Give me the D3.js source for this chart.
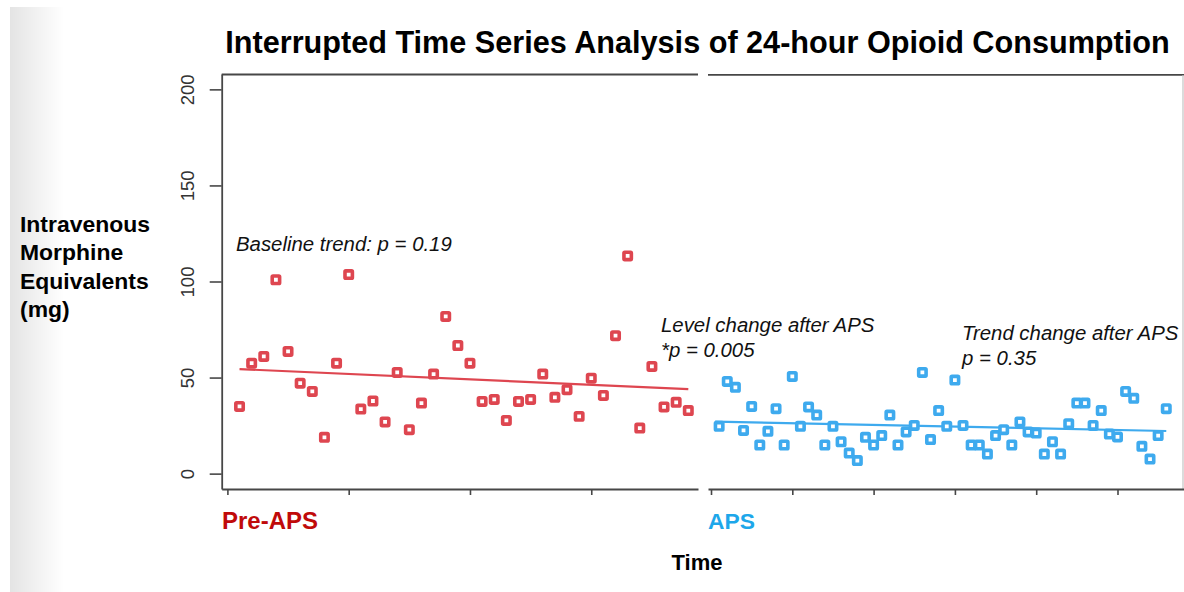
<!DOCTYPE html>
<html>
<head>
<meta charset="utf-8">
<script src="https://cdn.jsdelivr.net/npm/d3@7"></script>
<style>
  html, body { margin: 0; padding: 0; background: #fff; }
  svg { display: block; }
  text { font-family: "Liberation Sans", Arial, Helvetica, sans-serif; }
</style>
</head>
<body>
<svg id="chart" width="1184" height="592"></svg>
<script>
// ---- data ----
const preValues = [35.0, 57.5, 61.0, 100.9, 63.6, 47.1, 42.8, 18.9, 57.5, 103.6,
  33.6, 37.8, 26.9, 52.7, 22.9, 36.7, 51.8, 81.8, 66.7, 57.5,
  37.6, 38.6, 27.7, 37.6, 38.6, 51.8, 39.7, 43.7, 29.8, 49.7,
  40.7, 71.8, 113.3, 23.7, 55.8, 34.7, 37.1, 32.8];
const apsValues = [24.6, 48.0, 44.9, 22.5, 35.0, 14.9, 22.0, 33.8, 14.9, 50.6,
  24.6, 34.7, 30.5, 14.9, 24.6, 16.6, 10.7, 6.8, 18.9, 14.9,
  19.8, 30.5, 14.9, 21.7, 25.1, 52.7, 17.7, 32.8, 24.6, 48.7,
  25.1, 14.9, 14.9, 10.2, 19.8, 22.9, 14.9, 26.9, 21.7, 21.1,
  10.2, 16.6, 10.2, 26.0, 36.7, 36.7, 25.1, 32.8, 20.6, 19.1,
  42.8, 39.2, 14.2, 7.6, 19.8, 33.8];
const trendPre = [[1, 54.4], [38, 44.0]];
const trendAps = [[0.5, 27.1], [56, 22.2]];
const yTicks = [0, 50, 100, 150, 200];
const xTicksPre = [0, 10, 20, 30];
const xTicksAps = [0, 10, 20, 30, 40, 50];
const titleText = "Interrupted Time Series Analysis of 24-hour Opioid Consumption";
const yLabelLines = ["Intravenous", "Morphine", "Equivalents", "(mg)"];
const groupLabels = ["Pre-APS", "APS"];
const xLabel = "Time";
const notes = [
  {panel: "pre", lines: ["Baseline trend: p = 0.19"]},
  {panel: "lvl", lines: ["Level change after APS", "*p = 0.005"]},
  {panel: "trd", lines: ["Trend change after APS", "p = 0.35"]}
];

// ---- style ----
const RED = "#de4650", BLUE = "#3eaaee", RED_LABEL = "#c00a0a", BLUE_LABEL = "#1da7ea";
const AXIS = "#474747";

const svg = d3.select("#chart");

// left gray band
const defs = svg.append("defs");
const grad = defs.append("linearGradient").attr("id", "band").attr("x1", 0).attr("x2", 1);
grad.append("stop").attr("offset", 0).attr("stop-color", "#e4e4e4");
grad.append("stop").attr("offset", 1).attr("stop-color", "#ffffff");
svg.append("rect").attr("x", 10).attr("y", 7).attr("width", 54).attr("height", 585).attr("fill", "url(#band)");

// scales
const y = d3.scaleLinear().domain([-8, 208]).range([489, 74]);
const xPre = d3.scaleLinear().domain([-0.47, 38.8]).range([221.7, 698]);
const xAps = d3.scaleLinear().domain([-0.37, 58.18]).range([708, 1184]);

// box top lines and right edge
svg.append("line").attr("x1", xPre.range()[0]).attr("x2", xPre.range()[1])
  .attr("y1", 74.5).attr("y2", 74.5).attr("stroke", AXIS).attr("stroke-width", 1.8);
svg.append("line").attr("x1", xAps.range()[0]).attr("x2", xAps.range()[1])
  .attr("y1", 74.8).attr("y2", 74.8).attr("stroke", AXIS).attr("stroke-width", 1.8);
svg.append("line").attr("x1", 1183).attr("x2", 1183).attr("y1", 75).attr("y2", 489)
  .attr("stroke", "#c4c4c4").attr("stroke-width", 1.2);

// y axis
const gy = svg.append("g").attr("transform", `translate(${xPre.range()[0]},0)`)
  .call(d3.axisLeft(y).tickValues(yTicks).tickSize(12).tickSizeOuter(0));
gy.select(".domain").attr("stroke", AXIS).attr("stroke-width", 1.8);
gy.selectAll(".tick line").attr("stroke", AXIS).attr("stroke-width", 1.6);
gy.selectAll(".tick text")
  .attr("transform", "rotate(-90)")
  .attr("x", 0).attr("y", -28).attr("dy", 0)
  .attr("text-anchor", "middle")
  .attr("fill", "#333")
  .style("font-size", "18.5px")
  .style("font-family", "'Liberation Sans', Arial, sans-serif");

// x axes
function xAxis(scale, ticks) {
  const g = svg.append("g").attr("transform", "translate(0,489)")
    .call(d3.axisBottom(scale).tickValues(ticks).tickSize(6).tickSizeOuter(0).tickFormat(""));
  g.select(".domain").attr("stroke", AXIS).attr("stroke-width", 1.8);
  g.selectAll(".tick line").attr("stroke", AXIS).attr("stroke-width", 1.6);
}
xAxis(xPre, xTicksPre);
xAxis(xAps, xTicksAps);

// trend lines
const linePre = d3.line().x(d => xPre(d[0])).y(d => y(d[1]));
const lineAps = d3.line().x(d => xAps(d[0])).y(d => y(d[1]));
svg.append("path").attr("d", linePre(trendPre)).attr("stroke", RED).attr("stroke-width", 2.2).attr("fill", "none");
svg.append("path").attr("d", lineAps(trendAps)).attr("stroke", BLUE).attr("stroke-width", 2.2).attr("fill", "none");

// points
const S = 7.4;
function points(values, scale, color) {
  svg.append("g").selectAll("rect").data(values).join("rect")
    .attr("x", (d, i) => scale(i + 1) - S / 2)
    .attr("y", d => y(d) - S / 2)
    .attr("width", S).attr("height", S).attr("rx", 0.8)
    .attr("fill", "#fff").attr("stroke", color).attr("stroke-width", 3.6);
}
points(preValues, xPre, RED);
points(apsValues, xAps, BLUE);

// helper to fit text to a width
function fit(sel, target) {
  const w = sel.node().getComputedTextLength();
  const fs = parseFloat(sel.style("font-size"));
  sel.style("font-size", (fs * target / w) + "px");
}
function fitSize(str, target, base, weight, style) {
  const t = svg.append("text").style("font-size", base + "px")
    .style("font-weight", weight || "normal").style("font-style", style || "normal").text(str);
  const w = t.node().getComputedTextLength();
  t.remove();
  return base * target / w;
}

// title
const title = svg.append("text").attr("x", 697.5).attr("y", 53).attr("text-anchor", "middle")
  .style("font-weight", "bold").style("font-size", "27px").attr("fill", "#000").text(titleText);
fit(title, 945);

// y label
const yl = svg.append("text").style("font-weight", "bold")
  .style("font-size", fitSize(yLabelLines[0], 130, 22, "bold") + "px").attr("fill", "#000");
yl.selectAll("tspan").data(yLabelLines).join("tspan")
  .attr("x", 20).attr("y", (d, i) => 232 + i * 28.3).text(d => d);

// group labels
const pl = svg.append("text").attr("x", 222).attr("y", 529).style("font-weight", "bold")
  .style("font-size", "22px").attr("fill", RED_LABEL).text(groupLabels[0]);
fit(pl, 96);
const al = svg.append("text").attr("x", 708).attr("y", 529).style("font-weight", "bold")
  .style("font-size", "22px").attr("fill", BLUE_LABEL).text(groupLabels[1]);
fit(al, 47);

// x label
const xl = svg.append("text").attr("x", 697).attr("y", 570).attr("text-anchor", "middle")
  .style("font-weight", "bold").style("font-size", "22px").attr("fill", "#000").text(xLabel);
fit(xl, 51);

// annotations
const noteSize = fitSize(notes[0].lines[0], 216, 18, "normal", "italic");
const notePos = {pre: [236, 251], lvl: [661, 332], trd: [962, 340]};
notes.forEach(n => {
  const [nx, ny] = notePos[n.panel];
  const t = svg.append("text").style("font-style", "italic").style("font-size", noteSize + "px").attr("fill", "#111");
  t.selectAll("tspan").data(n.lines).join("tspan")
    .attr("x", nx).attr("y", (d, i) => ny + i * 25).text(d => d);
});
</script>
</body>
</html>
